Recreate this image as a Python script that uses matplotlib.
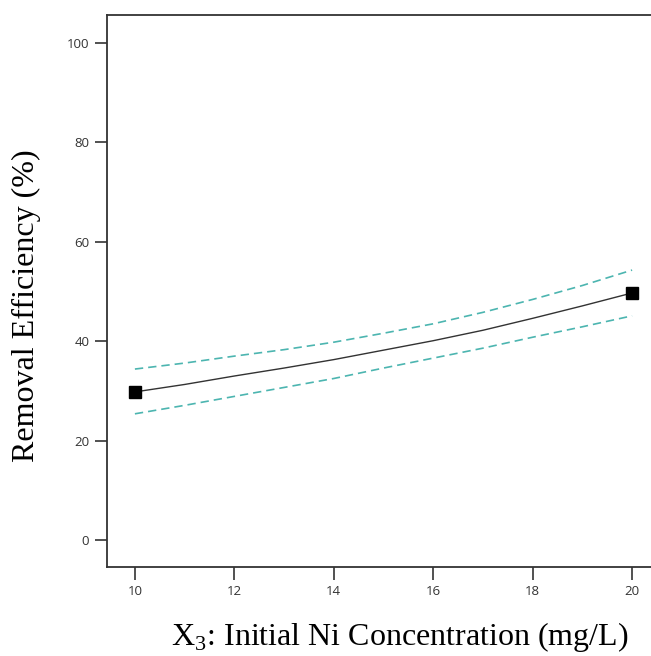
#!/usr/bin/env python3

import numpy as np
import matplotlib
matplotlib.use("Agg")
import matplotlib.pyplot as plt

# Data
conc = [10, 11, 12, 13, 14, 15, 16, 17, 18, 19, 20]
predicted = [29.8, 31.3, 33.0, 34.6, 36.3, 38.2, 40.1, 42.2, 44.6, 47.1, 49.7]
upper_ci = [34.4, 35.6, 37.0, 38.3, 39.8, 41.6, 43.5, 45.8, 48.4, 51.2, 54.3]
lower_ci = [25.4, 27.1, 28.9, 30.7, 32.5, 34.6, 36.6, 38.6, 40.8, 42.9, 45.1]
design_x = [10, 20]
design_y = [29.8, 49.7]

x_ticks = [10, 12, 14, 16, 18, 20]
y_ticks = [0, 20, 40, 60, 80, 100]

plt.rcParams["mathtext.fontset"] = "custom"
plt.rcParams["mathtext.rm"] = "Liberation Serif"

fig = plt.figure(figsize=(6.51, 6.56), dpi=100)
ax = fig.add_axes([0.165, 0.1357, 0.835, 0.8415])

# Confidence band and prediction
ax.plot(conc, upper_ci, color="#4cb5b0", lw=1.2, ls=(0, (5, 3)))
ax.plot(conc, lower_ci, color="#4cb5b0", lw=1.2, ls=(0, (5, 3)))
ax.plot(conc, predicted, color="#333333", lw=1.0)
ax.plot(design_x, design_y, "s", color="black", markersize=8.5, zorder=5)

ax.set_xlim(9.447, 20.38)
ax.set_ylim(-5.4, 105.6)
ax.set_xticks(x_ticks)
ax.set_yticks(y_ticks)

for side in ["left", "top", "bottom"]:
    ax.spines[side].set_color("#333333")
    ax.spines[side].set_linewidth(1.3)
ax.spines["right"].set_visible(False)

ax.tick_params(direction="out", length=9, width=1.2, color="#333333",
               labelsize=9.5, labelcolor="#333333", pad=4)
for lbl in ax.get_xticklabels() + ax.get_yticklabels():
    lbl.set_family("Open Sans")

# Axis titles
fig.text(400 / 651, 1 - 637 / 656, "X$_3$: Initial Ni Concentration (mg/L)",
         family="Liberation Serif", fontsize=23, ha="center", va="center")
fig.text(26 / 651, 1 - 306 / 656, "Removal Efficiency (%)",
         family="Liberation Serif", fontsize=23, ha="center", va="center",
         rotation=90)

fig.savefig("out.png", dpi=100)
